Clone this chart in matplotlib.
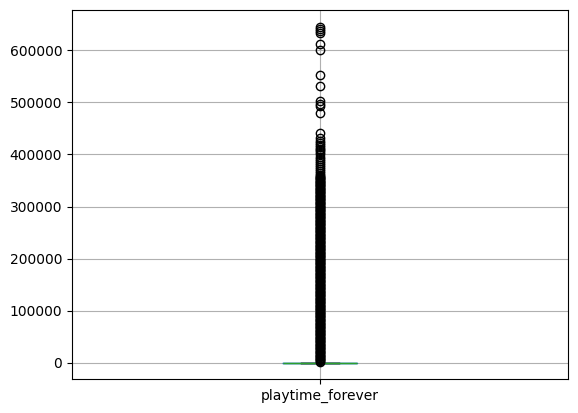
import matplotlib
matplotlib.use("Agg")
import matplotlib.pyplot as plt

# box statistics for playtime_forever (box collapses onto zero)
column = "playtime_forever"
q1 = 0
median = 0
q3 = 0
whisker_low = 0
whisker_high = 0

# sparse outliers at the top
fliers_sparse = [645000, 641000, 637000, 633000, 613000, 600000, 552000, 531000,
                 502000, 497000, 493000, 480000, 442000, 431000, 426000, 422000,
                 419000, 415000, 411000, 408000, 404000, 400000, 396000, 392000,
                 388000, 384000, 380000, 376000, 372000, 368000, 364000]

# dense mass of outliers (solid black column)
fliers_dense = [
    1500, 3000, 4500, 6000, 7500, 9000, 10500, 12000, 13500, 15000, 16500, 18000,
    19500, 21000, 22500, 24000, 25500, 27000, 28500, 30000, 31500, 33000, 34500, 36000,
    37500, 39000, 40500, 42000, 43500, 45000, 46500, 48000, 49500, 51000, 52500, 54000,
    55500, 57000, 58500, 60000, 61500, 63000, 64500, 66000, 67500, 69000, 70500, 72000,
    73500, 75000, 76500, 78000, 79500, 81000, 82500, 84000, 85500, 87000, 88500, 90000,
    91500, 93000, 94500, 96000, 97500, 99000, 100500, 102000, 103500, 105000, 106500, 108000,
    109500, 111000, 112500, 114000, 115500, 117000, 118500, 120000, 121500, 123000, 124500, 126000,
    127500, 129000, 130500, 132000, 133500, 135000, 136500, 138000, 139500, 141000, 142500, 144000,
    145500, 147000, 148500, 150000, 151500, 153000, 154500, 156000, 157500, 159000, 160500, 162000,
    163500, 165000, 166500, 168000, 169500, 171000, 172500, 174000, 175500, 177000, 178500, 180000,
    181500, 183000, 184500, 186000, 187500, 189000, 190500, 192000, 193500, 195000, 196500, 198000,
    199500, 201000, 202500, 204000, 205500, 207000, 208500, 210000, 211500, 213000, 214500, 216000,
    217500, 219000, 220500, 222000, 223500, 225000, 226500, 228000, 229500, 231000, 232500, 234000,
    235500, 237000, 238500, 240000, 241500, 243000, 244500, 246000, 247500, 249000, 250500, 252000,
    253500, 255000, 256500, 258000, 259500, 261000, 262500, 264000, 265500, 267000, 268500, 270000,
    271500, 273000, 274500, 276000, 277500, 279000, 280500, 282000, 283500, 285000, 286500, 288000,
    289500, 291000, 292500, 294000, 295500, 297000, 298500, 300000, 301500, 303000, 304500, 306000,
    307500, 309000, 310500, 312000, 313500, 315000, 316500, 318000, 319500, 321000, 322500, 324000,
    325500, 327000, 328500, 330000, 331500, 333000, 334500, 336000, 337500, 339000, 340500, 342000,
    343500, 345000, 346500, 348000, 349500, 351000, 352500, 354000, 355500, 357000, 358500, 360000,
]

stats = [{
    "label": column,
    "med": median,
    "q1": q1,
    "q3": q3,
    "whislo": whisker_low,
    "whishi": whisker_high,
    "fliers": fliers_dense + fliers_sparse,
}]

fig = plt.figure(figsize=(5.78, 4.13), dpi=100)
ax = fig.add_axes([72 / 578, (413 - 379.3) / 413, 496 / 578, 369 / 413])

ax.bxp(stats,
       boxprops=dict(color="C0", zorder=1.6),
       whiskerprops=dict(color="C0", zorder=1.6),
       medianprops=dict(color="C2", zorder=1.9),
       capprops=dict(color="k", zorder=1.7))
ax.grid(True)

fig.savefig("out.png", dpi=100)
